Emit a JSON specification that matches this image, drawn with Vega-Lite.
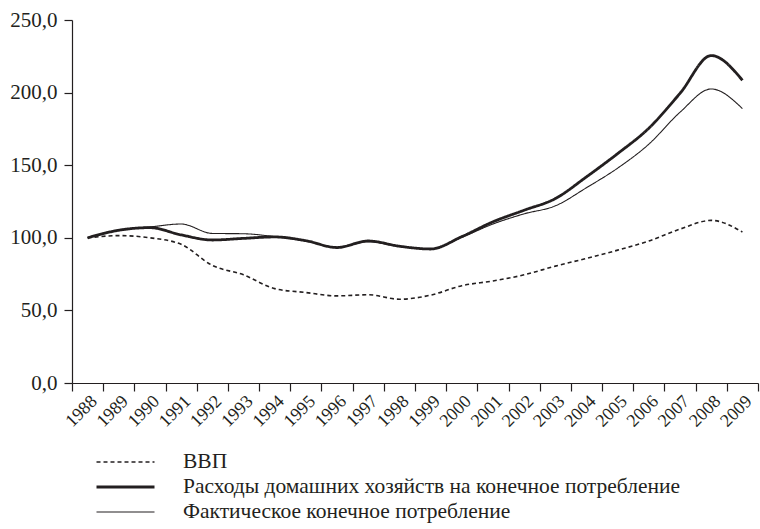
{
  "$schema": "https://vega.github.io/schema/vega-lite/v6.json",
  "width": 686,
  "height": 363,
  "autosize": {"type": "none"},
  "padding": {"left": 72, "top": 20, "right": 2, "bottom": 146},
  "background": "white",
  "config": {
    "font": "Liberation Serif, Times New Roman, serif",
    "view": {"stroke": null},
    "axis": {"labelFont": "Liberation Serif, Times New Roman, serif", "labelColor": "#231f20", "domainColor": "#231f20", "tickColor": "#231f20", "grid": false},
    "legend": {"labelFont": "Liberation Serif, Times New Roman, serif"}
  },
  "data": {
    "values": [
      {"year": "1988", "series": "ВВП", "value": 100},
      {"year": "1989", "series": "ВВП", "value": 101.5},
      {"year": "1990", "series": "ВВП", "value": 100},
      {"year": "1991", "series": "ВВП", "value": 95.5},
      {"year": "1992", "series": "ВВП", "value": 81},
      {"year": "1993", "series": "ВВП", "value": 74.5},
      {"year": "1994", "series": "ВВП", "value": 65},
      {"year": "1995", "series": "ВВП", "value": 62.3},
      {"year": "1996", "series": "ВВП", "value": 60},
      {"year": "1997", "series": "ВВП", "value": 60.8},
      {"year": "1998", "series": "ВВП", "value": 57.7},
      {"year": "1999", "series": "ВВП", "value": 60.5},
      {"year": "2000", "series": "ВВП", "value": 67},
      {"year": "2001", "series": "ВВП", "value": 70.3},
      {"year": "2002", "series": "ВВП", "value": 74.5},
      {"year": "2003", "series": "ВВП", "value": 80.5},
      {"year": "2004", "series": "ВВП", "value": 85.8},
      {"year": "2005", "series": "ВВП", "value": 91.5},
      {"year": "2006", "series": "ВВП", "value": 97.8},
      {"year": "2007", "series": "ВВП", "value": 106},
      {"year": "2008", "series": "ВВП", "value": 112},
      {"year": "2009", "series": "ВВП", "value": 104},
      {"year": "1988", "series": "Расходы домашних хозяйств на конечное потребление", "value": 100},
      {"year": "1989", "series": "Расходы домашних хозяйств на конечное потребление", "value": 105.2},
      {"year": "1990", "series": "Расходы домашних хозяйств на конечное потребление", "value": 107},
      {"year": "1991", "series": "Расходы домашних хозяйств на конечное потребление", "value": 102},
      {"year": "1992", "series": "Расходы домашних хозяйств на конечное потребление", "value": 98.5},
      {"year": "1993", "series": "Расходы домашних хозяйств на конечное потребление", "value": 99.6},
      {"year": "1994", "series": "Расходы домашних хозяйств на конечное потребление", "value": 100.6},
      {"year": "1995", "series": "Расходы домашних хозяйств на конечное потребление", "value": 98},
      {"year": "1996", "series": "Расходы домашних хозяйств на конечное потребление", "value": 93.3},
      {"year": "1997", "series": "Расходы домашних хозяйств на конечное потребление", "value": 97.8},
      {"year": "1998", "series": "Расходы домашних хозяйств на конечное потребление", "value": 94.2},
      {"year": "1999", "series": "Расходы домашних хозяйств на конечное потребление", "value": 92.3},
      {"year": "2000", "series": "Расходы домашних хозяйств на конечное потребление", "value": 100.8},
      {"year": "2001", "series": "Расходы домашних хозяйств на конечное потребление", "value": 111},
      {"year": "2002", "series": "Расходы домашних хозяйств на конечное потребление", "value": 119},
      {"year": "2003", "series": "Расходы домашних хозяйств на конечное потребление", "value": 127},
      {"year": "2004", "series": "Расходы домашних хозяйств на конечное потребление", "value": 142},
      {"year": "2005", "series": "Расходы домашних хозяйств на конечное потребление", "value": 158},
      {"year": "2006", "series": "Расходы домашних хозяйств на конечное потребление", "value": 175.5},
      {"year": "2007", "series": "Расходы домашних хозяйств на конечное потребление", "value": 199.5},
      {"year": "2008", "series": "Расходы домашних хозяйств на конечное потребление", "value": 225.5},
      {"year": "2009", "series": "Расходы домашних хозяйств на конечное потребление", "value": 208.5},
      {"year": "1988", "series": "Фактическое конечное потребление", "value": 100},
      {"year": "1989", "series": "Фактическое конечное потребление", "value": 105.5},
      {"year": "1990", "series": "Фактическое конечное потребление", "value": 107.5},
      {"year": "1991", "series": "Фактическое конечное потребление", "value": 109.5},
      {"year": "1992", "series": "Фактическое конечное потребление", "value": 103},
      {"year": "1993", "series": "Фактическое конечное потребление", "value": 102.8},
      {"year": "1994", "series": "Фактическое конечное потребление", "value": 100.8},
      {"year": "1995", "series": "Фактическое конечное потребление", "value": 97.8},
      {"year": "1996", "series": "Фактическое конечное потребление", "value": 93.3},
      {"year": "1997", "series": "Фактическое конечное потребление", "value": 97.3},
      {"year": "1998", "series": "Фактическое конечное потребление", "value": 94},
      {"year": "1999", "series": "Фактическое конечное потребление", "value": 92.3},
      {"year": "2000", "series": "Фактическое конечное потребление", "value": 100.3},
      {"year": "2001", "series": "Фактическое конечное потребление", "value": 109.5},
      {"year": "2002", "series": "Фактическое конечное потребление", "value": 116.5},
      {"year": "2003", "series": "Фактическое конечное потребление", "value": 122},
      {"year": "2004", "series": "Фактическое конечное потребление", "value": 134.5},
      {"year": "2005", "series": "Фактическое конечное потребление", "value": 148},
      {"year": "2006", "series": "Фактическое конечное потребление", "value": 164.5},
      {"year": "2007", "series": "Фактическое конечное потребление", "value": 186.5},
      {"year": "2008", "series": "Фактическое конечное потребление", "value": 202.5},
      {"year": "2009", "series": "Фактическое конечное потребление", "value": 189}
    ]
  },
  "mark": {"type": "line", "interpolate": "monotone", "color": "#231f20"},
  "encoding": {
    "x": {
      "field": "year",
      "type": "ordinal",
      "scale": {"type": "band", "paddingInner": 0, "paddingOuter": 0},
      "axis": {
        "title": null,
        "labelAngle": -45,
        "labelFontSize": 18,
        "tickBand": "extent",
        "tickSize": 8,
        "labelPadding": 1,
        "domainWidth": 1.2,
        "tickWidth": 1.2
      }
    },
    "y": {
      "field": "value",
      "type": "quantitative",
      "scale": {"domain": [0, 250], "nice": false},
      "axis": {
        "title": null,
        "values": [0, 50, 100, 150, 200, 250],
        "labelExpr": "replace(format(datum.value, '.1f'), '.', ',')",
        "labelFontSize": 21,
        "tickSize": 8,
        "labelPadding": 7,
        "domainWidth": 1.2,
        "tickWidth": 1.2
      }
    },
    "strokeDash": {
      "field": "series",
      "type": "nominal",
      "scale": {
        "domain": ["ВВП", "Расходы домашних хозяйств на конечное потребление", "Фактическое конечное потребление"],
        "range": [[4, 3], [1, 0], [1, 0]]
      },
      "legend": {
        "title": null,
        "orient": "none",
        "legendX": 23,
        "legendY": 432,
        "direction": "vertical",
        "symbolType": "stroke",
        "symbolSize": 3364,
        "symbolStrokeColor": "#231f20",
        "labelFontSize": 21.5,
        "labelColor": "#231f20",
        "labelOffset": 27,
        "labelLimit": 700,
        "clipHeight": 20,
        "rowPadding": 3
      }
    },
    "strokeWidth": {
      "field": "series",
      "type": "nominal",
      "scale": {
        "type": "ordinal",
        "domain": ["ВВП", "Расходы домашних хозяйств на конечное потребление", "Фактическое конечное потребление"],
        "range": [1.6, 2.8, 1.1]
      },
      "legend": {
        "title": null,
        "orient": "none",
        "legendX": 23,
        "legendY": 432,
        "direction": "vertical",
        "symbolType": "stroke",
        "symbolSize": 3364,
        "symbolStrokeColor": "#231f20",
        "labelFontSize": 21.5,
        "labelColor": "#231f20",
        "labelOffset": 27,
        "labelLimit": 700,
        "clipHeight": 20,
        "rowPadding": 3
      }
    }
  }
}
